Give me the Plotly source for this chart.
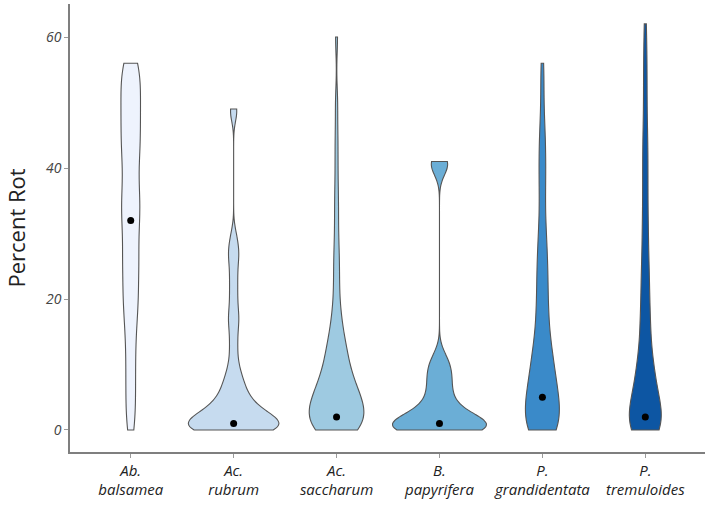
import plotly.graph_objects as go

species = ["Ab.<br>balsamea", "Ac.<br>rubrum", "Ac.<br>saccharum",
           "B.<br>papyrifera", "P.<br>grandidentata", "P.<br>tremuloides"]

# Median percent rot per species (black dots)
medians = [32, 1, 2, 1, 5, 2]

ab_balsamea = [0, 2, 4, 6, 8, 10, 12, 14, 16, 17, 19, 20, 21, 22, 24, 25, 26, 27, 28, 30, 31, 32,
               33, 34, 35, 36, 37, 38, 40, 41, 42, 43, 44, 45, 46, 47, 48, 49, 50, 51, 52,
               53, 54, 55, 56, 56]
ac_rubrum = ([0] * 20 + [1] * 14 + [2] * 10 + [3] * 7 + [4] * 5 + [5] * 4 + [6] * 3 + [7] * 3 +
             [8] * 2 + [9] * 2 +
             [10, 11, 12, 13, 14, 15, 16, 17, 17, 18, 19, 20, 21, 22, 23, 24, 25, 26, 27, 27, 28, 29, 30] +
             [48, 49, 49])
ac_saccharum = ([0] * 9 + [1] * 5 + [2] * 5 + [3] * 5 + [4] * 5 + [5] * 4 + [6] * 4 + [7] * 3 +
                [8] * 3 + [9] * 2 + [10] * 2 + [11] * 2 + [12] * 2 + [13] * 2 + [14] +
                [15, 16, 17, 18, 20, 22, 24, 26, 28,
                 31, 34, 37, 41, 45, 50, 60])
b_papyrifera = ([0] * 22 + [1] * 14 + [2] * 9 + [3] * 5 + [4] * 4 + [5] * 3 + [6] * 3 + [7] * 3 +
                [8] * 3 + [9] * 3 + [10] * 3 + [11] * 2 + [12] +
                [39, 40, 40, 41, 41, 41, 41, 41])
p_grandidentata = ([0] * 9 + [1] * 3 + [2] * 3 + [3] * 3 + [4] * 3 +
                   [5, 5, 5, 6, 6, 6, 7, 7, 7, 8, 8, 9, 9,
                    10, 10, 11, 11, 12, 12, 13, 13, 14,
                    15, 16, 17, 18, 19, 19,
                    20, 22, 23, 24, 24,
                    25, 27, 28, 29,
                    30, 32, 34,
                    36, 38, 39,
                    41, 43, 44,
                    46, 49,
                    53, 56])
p_tremuloides = ([0] * 9 + [1] * 4 + [2] * 4 + [3] * 3 + [4] * 3 +
                 [5, 5, 6, 6, 7, 7, 8, 8, 9, 9,
                  10, 10, 11, 12, 13, 14,
                  15, 16, 17, 18, 19,
                  20, 22, 23, 24,
                  25, 27, 29,
                  30, 32, 34,
                  36, 38, 40,
                  42, 44,
                  46, 49,
                  52, 55,
                  58, 62])

series = [ab_balsamea, ac_rubrum, ac_saccharum, b_papyrifera, p_grandidentata, p_tremuloides]

colors = ["#eef3fd", "#c6dbef", "#9ecae1", "#6baed6", "#3a8ac9", "#0d56a3"]
widths = [0.19, 0.88, 0.53, 0.91, 0.33, 0.31]
bandwidths = [3, 1.5, 2.5, 1.5, 3.2, 3.2]

fig = go.Figure()
for name, vals, col, w, bw in zip(species, series, colors, widths, bandwidths):
    fig.add_trace(go.Violin(
        x=[name] * len(vals), y=vals, name=name,
        fillcolor=col, opacity=1,
        line=dict(color="#555555", width=1.1),
        spanmode="hard", bandwidth=bw, scalemode="width", width=w,
        points=False, box_visible=False, meanline_visible=False,
        hoverinfo="skip", showlegend=False,
    ))

fig.add_trace(go.Scatter(
    x=species, y=medians, mode="markers",
    marker=dict(color="black", size=7), showlegend=False, hoverinfo="skip",
))

fig.update_layout(
    width=709, height=508,
    margin=dict(l=70, r=4, t=4, b=56),
    paper_bgcolor="white", plot_bgcolor="white",
    font=dict(family="Open Sans, Lato, sans-serif", color="#333333"),
    violingap=0, violinmode="overlay",
)
fig.update_xaxes(
    type="category", categoryorder="array", categoryarray=species,
    range=[-0.59, 5.58],
    showline=True, linecolor="#7f7f7f", linewidth=1.5,
    ticks="outside", ticklen=4, tickcolor="#9a9a9a",
    tickfont=dict(size=15, style="italic", color="#222222"),
    showgrid=False, zeroline=False,
)
fig.update_yaxes(
    range=[-3.36, 65.04],
    tickvals=[0, 20, 40, 60],
    showline=True, linecolor="#7f7f7f", linewidth=1.5,
    ticks="outside", ticklen=4, tickcolor="#9a9a9a",
    tickfont=dict(size=14, style="italic", color="#444444"),
    showgrid=False, zeroline=False,
    title=dict(text="Percent Rot", font=dict(size=22, color="#222222"), standoff=14),
)

fig.write_html("out.html")
